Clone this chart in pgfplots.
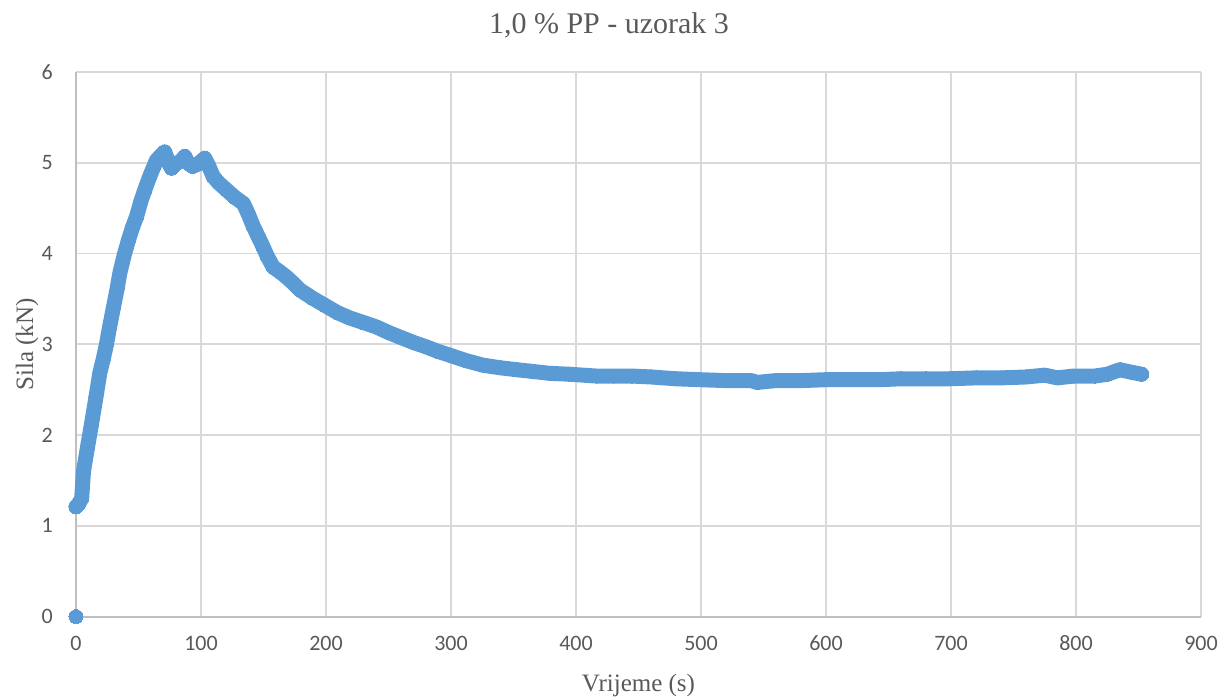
\documentclass[border=0pt]{standalone}
\usepackage{fontspec}
\setmainfont{Liberation Serif}
\newfontfamily\carlito{Carlito}
\usepackage{pgfplots}
\pgfplotsset{compat=1.18}
\definecolor{ser}{HTML}{5B9BD5}
\definecolor{txt}{HTML}{595959}
\definecolor{grd}{HTML}{D9D9D9}
\definecolor{axl}{HTML}{BFBFBF}
\begin{document}
\begin{tikzpicture}
\useasboundingbox (-38pt,-41.65pt) rectangle (575.5pt,308.3pt);
\begin{axis}[
  at={(0,0)}, anchor=south west,
  scale only axis, width=562.5pt, height=272.3pt,
  xmin=0, xmax=900, ymin=0, ymax=6,
  xtick={0,100,...,900}, ytick={0,1,...,6},
  grid=major, major grid style={grd, line width=0.9pt},
  axis x line=bottom, axis y line=left,
  axis line style={axl, line width=1pt, -},
  tick style={draw=none},
  /pgf/number format/assume math mode=true,
  ticklabel style={font=\carlito\fontsize{11}{13}\selectfont, text=txt},
  xticklabel style={yshift=-4pt},
  yticklabel style={xshift=-6pt},
  xlabel={Vrijeme (s)}, ylabel={Sila (kN)},
  label style={font=\fontsize{12.5}{14}\selectfont, text=txt},
  xlabel style={at={(0.5,0)}, anchor=center, yshift=-34.2pt},
  ylabel style={at={(0,0.5)}, anchor=center, rotate=0, yshift=24.5pt},
  clip=false,
]
\addplot[ser, line width=7.5pt, line join=round, line cap=round, mark=*, mark size=3.5pt, mark options={ser, line width=0pt}] coordinates {
(0,1.21) (2,1.24) (4.5,1.30) (6,1.60) (9,1.85) (12.5,2.13) (16,2.42) (19,2.68)
(22,2.85) (24.5,3.01) (27,3.20) (30,3.41) (33,3.62) (35,3.78) (38.5,3.98)
(42,4.15) (45,4.28) (48.5,4.41) (52,4.58) (55,4.70) (59,4.85) (62,4.95)
(64.5,5.03) (68,5.08) (71,5.12) (74,5.00) (76.5,4.94) (80,4.99) (84,5.02)
(87,5.07) (90,4.99) (93.5,4.96) (98,4.99) (103,5.05) (106,4.97) (109.7,4.85)
(114,4.78) (120.5,4.70) (127,4.62) (134,4.55) (138,4.43) (141.8,4.30)
(146,4.18) (149.8,4.07) (153,3.97) (157.8,3.85) (163,3.80) (168.5,3.74)
(174,3.67) (179,3.60) (189,3.51) (199,3.43) (209,3.35) (219,3.29) (230,3.24)
(240.5,3.19) (250,3.13) (259,3.08) (270,3.02) (280.5,2.97) (290,2.92)
(299,2.88) (312,2.82) (325.5,2.77) (340,2.74) (352.5,2.72) (366,2.70)
(379,2.68) (395,2.67) (416.5,2.65) (430,2.65) (445,2.65) (460,2.64)
(480,2.62) (499,2.61) (520,2.60) (540,2.60) (545,2.58) (560,2.60) (580,2.60)
(600,2.61) (620,2.61) (643,2.61) (660,2.62) (680,2.62) (699,2.62) (720,2.63)
(740,2.63) (760,2.64) (775,2.66) (785,2.63) (798,2.65) (815,2.65) (825,2.67)
(835,2.72) (845,2.69) (852.5,2.67)
};
\addplot[only marks, mark=*, mark size=3.5pt, mark options={ser, fill=ser, line width=0pt}] coordinates {(0,0)};
\end{axis}
\node[font=\fontsize{15}{17}\selectfont, text=txt] at (266.5pt,295.8pt) {1,0 \% PP - uzorak 3};
\end{tikzpicture}
\end{document}
